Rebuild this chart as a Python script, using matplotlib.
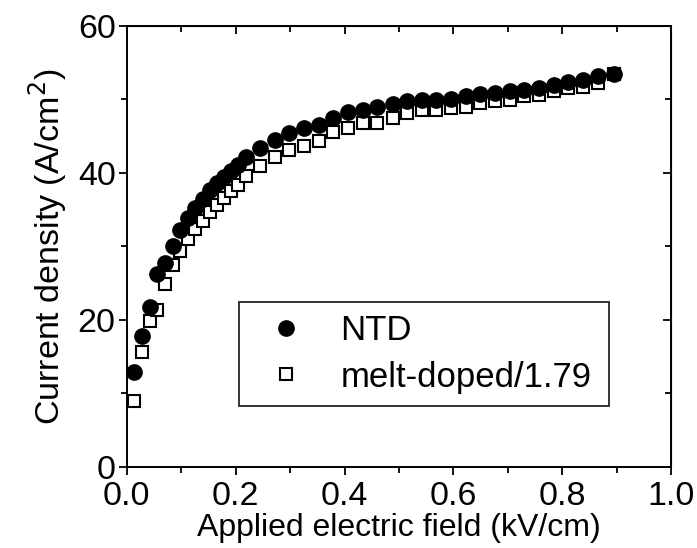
import numpy as np
import matplotlib
matplotlib.use("Agg")
import matplotlib.pyplot as plt

# applied electric field (kV/cm)
field = [0.014, 0.028, 0.042, 0.056, 0.070, 0.084, 0.098, 0.112, 0.126, 0.139,
         0.152, 0.165, 0.178, 0.191, 0.204, 0.218,
         0.245, 0.272, 0.298, 0.325, 0.353, 0.379, 0.407, 0.434, 0.460, 0.488,
         0.514, 0.542, 0.568, 0.595, 0.623, 0.649, 0.676, 0.703, 0.730, 0.757,
         0.784, 0.811, 0.838, 0.865, 0.894]

# current density (A/cm^2)
ntd = [12.9, 17.8, 21.8, 26.3, 27.8, 30.0, 32.2, 33.8, 35.2, 36.5,
       37.6, 38.6, 39.4, 40.2, 41.0, 42.1,
       43.4, 44.5, 45.4, 46.1, 46.5, 47.4, 48.3, 48.6, 48.9, 49.4,
       49.7, 49.9, 49.9, 50.0, 50.4, 50.7, 50.9, 51.1, 51.3, 51.5,
       52.0, 52.3, 52.6, 53.2, 53.5]

melt = [9.0, 15.6, 19.9, 21.3, 24.9, 27.4, 29.3, 31.0, 32.3, 33.4,
        34.7, 35.6, 36.6, 37.5, 38.4, 39.5,
        40.9, 42.1, 43.1, 43.7, 44.3, 45.6, 46.1, 46.8, 46.8, 47.4,
        48.1, 48.5, 48.5, 48.8, 49.0, 49.5, 49.7, 49.9, 50.4, 50.6,
        51.1, 51.5, 51.7, 52.2, 53.5]

plt.rcParams['font.family'] = ['Liberation Sans', 'DejaVu Sans']

fig = plt.figure(figsize=(6.97, 5.48), dpi=100)
ax = fig.add_axes([0.182, 0.148, 0.781, 0.805])

ax.plot(field, melt, linestyle='none', marker='s', markersize=9,
        markerfacecolor='white', markeredgecolor='black', markeredgewidth=1.5,
        label='melt-doped/1.79', zorder=2)
ax.plot(field, ntd, linestyle='none', marker='o', markersize=11,
        markerfacecolor='black', markeredgecolor='black',
        label='NTD', zorder=3)

ax.set_xlim(0, 1.0)
ax.set_ylim(0, 60)
ax.set_xticks(np.arange(0, 1.01, 0.2))
ax.set_xticks(np.arange(0.1, 1.0, 0.2), minor=True)
ax.set_yticks(np.arange(0, 61, 20))
ax.set_yticks(np.arange(10, 60, 20), minor=True)
ax.xaxis.set_major_formatter(matplotlib.ticker.FormatStrFormatter('%.1f'))

for s in ax.spines.values():
    s.set_linewidth(1.4)
ax.tick_params(which='major', direction='out', length=6, width=1.3,
               labelsize=24.5, pad=2)
ax.tick_params(axis='x', which='major', pad=4)
ax.tick_params(which='minor', direction='out', length=4, width=1.3)

# inward ticks on top and right
top = ax.secondary_xaxis('top')
top.set_xticks(np.arange(0, 1.01, 0.2))
top.set_xticks(np.arange(0.1, 1.0, 0.2), minor=True)
top.tick_params(which='major', direction='in', length=6, width=1.3, labeltop=False)
top.tick_params(which='minor', direction='in', length=4, width=1.3)
right = ax.secondary_yaxis('right')
right.set_yticks(np.arange(0, 61, 20))
right.set_yticks(np.arange(10, 60, 20), minor=True)
right.tick_params(which='major', direction='in', length=6, width=1.3, labelright=False)
right.tick_params(which='minor', direction='in', length=4, width=1.3)

ax.set_xlabel('Applied electric field (kV/cm)', fontsize=23, labelpad=1)
ax.set_ylabel('Current density (A/cm$^2$)', fontsize=24.5, labelpad=6)

handles, labels = ax.get_legend_handles_labels()
leg = ax.legend(handles[::-1], labels[::-1], loc='lower left',
                bbox_to_anchor=(0.206, 0.138, 0.68, 0.245), mode='expand',
                borderaxespad=0, fontsize=25, frameon=True, fancybox=False,
                edgecolor='black', handletextpad=0.56, labelspacing=0.38,
                borderpad=0.36, handlelength=2.0)
leg.get_frame().set_linewidth(1.4)

fig.savefig('out.png', dpi=100)
